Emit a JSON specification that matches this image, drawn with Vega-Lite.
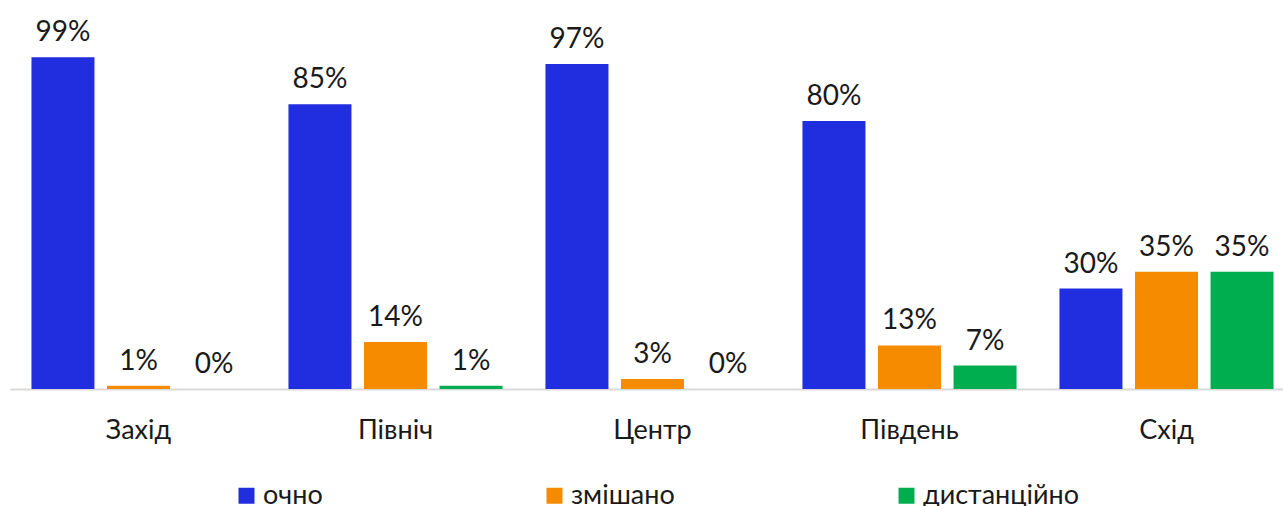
{
  "$schema": "https://vega.github.io/schema/vega-lite/v6.json",
  "width": 1285,
  "height": 335,
  "autosize": "none",
  "padding": {"left": 10, "top": 54, "right": 0, "bottom": 117},
  "background": "white",
  "config": {"view": {"stroke": null}, "font": "Lato"},
  "data": {
    "values": [
      {"region": "Захід", "mode": "очно", "value": 0.99},
      {"region": "Захід", "mode": "змішано", "value": 0.01},
      {"region": "Захід", "mode": "дистанційно", "value": 0.0},
      {"region": "Північ", "mode": "очно", "value": 0.85},
      {"region": "Північ", "mode": "змішано", "value": 0.14},
      {"region": "Північ", "mode": "дистанційно", "value": 0.01},
      {"region": "Центр", "mode": "очно", "value": 0.97},
      {"region": "Центр", "mode": "змішано", "value": 0.03},
      {"region": "Центр", "mode": "дистанційно", "value": 0.0},
      {"region": "Південь", "mode": "очно", "value": 0.80},
      {"region": "Південь", "mode": "змішано", "value": 0.13},
      {"region": "Південь", "mode": "дистанційно", "value": 0.07},
      {"region": "Схід", "mode": "очно", "value": 0.30},
      {"region": "Схід", "mode": "змішано", "value": 0.35},
      {"region": "Схід", "mode": "дистанційно", "value": 0.35}
    ]
  },
  "encoding": {
    "x": {
      "field": "region",
      "type": "nominal",
      "sort": ["Захід", "Північ", "Центр", "Південь", "Схід"],
      "scale": {"paddingInner": 0.167, "paddingOuter": 0.0835},
      "axis": {
        "title": null,
        "labelAngle": 0,
        "ticks": false,
        "labelFontSize": 27,
        "labelPadding": 28,
        "labelColor": "#1a1a1a",
        "domainColor": "#d9d9d9",
        "domainWidth": 2
      }
    },
    "xOffset": {
      "field": "mode",
      "type": "nominal",
      "sort": ["очно", "змішано", "дистанційно"],
      "scale": {"paddingInner": 0.166, "paddingOuter": 0}
    },
    "y": {
      "field": "value",
      "type": "quantitative",
      "scale": {"domain": [0, 1]},
      "axis": null
    }
  },
  "layer": [
    {
      "mark": {"type": "bar"},
      "encoding": {
        "color": {
          "field": "mode",
          "type": "nominal",
          "sort": ["очно", "змішано", "дистанційно"],
          "scale": {
            "domain": ["очно", "змішано", "дистанційно"],
            "range": ["#202ee0", "#f78b00", "#00ae50"]
          },
          "legend": {
            "title": null,
            "orient": "none",
            "legendX": 223,
            "legendY": 428,
            "direction": "horizontal",
            "columns": 3,
            "padding": 0,
            "symbolType": "square",
            "symbolSize": 256,
            "symbolStrokeWidth": 0,
            "symbolOpacity": 1,
            "labelFontSize": 27,
            "labelColor": "#1a1a1a",
            "labelOffset": 3,
            "columnPadding": 218
          }
        }
      }
    },
    {
      "mark": {"type": "text", "baseline": "alphabetic", "dy": -16, "fontSize": 28, "color": "#1a1a1a"},
      "encoding": {
        "text": {"field": "value", "type": "quantitative", "format": ".0%"}
      }
    }
  ]
}
